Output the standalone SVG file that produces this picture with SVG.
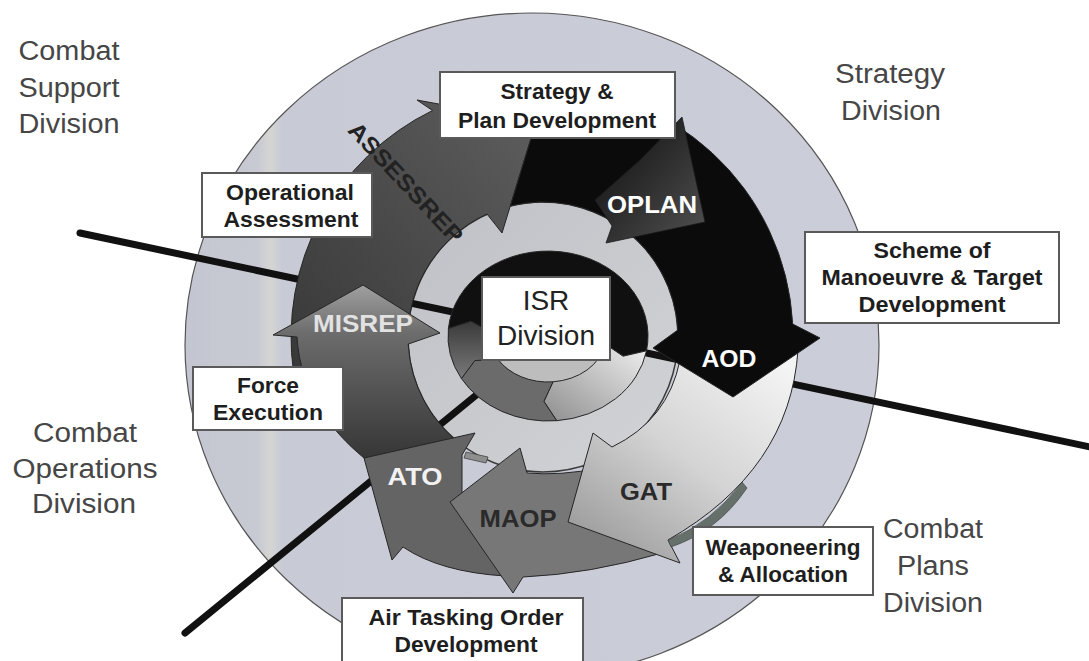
<svg xmlns="http://www.w3.org/2000/svg" width="1089" height="661" viewBox="0 0 1089 661">
<defs>
  <linearGradient id="gDisc" x1="0" y1="0" x2="1" y2="0">
    <stop offset="0" stop-color="#c3c6d0"/>
    <stop offset="0.105" stop-color="#c8cad3"/>
    <stop offset="0.123" stop-color="#d5d5d2"/>
    <stop offset="0.14" stop-color="#c8cbd5"/>
    <stop offset="1" stop-color="#cbced8"/>
  </linearGradient>
  <linearGradient id="gAss" x1="0" y1="1" x2="1" y2="0">
    <stop offset="0" stop-color="#383838"/>
    <stop offset="1" stop-color="#5e5e5e"/>
  </linearGradient>
  <linearGradient id="gMis" x1="0" y1="0" x2="0" y2="1">
    <stop offset="0" stop-color="#a0a0a0"/>
    <stop offset="0.28" stop-color="#6c6c6c"/>
    <stop offset="1" stop-color="#363636"/>
  </linearGradient>
  <linearGradient id="gGat" x1="0.85" y1="0" x2="0.1" y2="0.95">
    <stop offset="0" stop-color="#f4f4f4"/>
    <stop offset="0.5" stop-color="#d4d4d4"/>
    <stop offset="1" stop-color="#9a9a9a"/>
  </linearGradient>
  <linearGradient id="gOplan" x1="0.1" y1="0.1" x2="0.9" y2="0.9">
    <stop offset="0" stop-color="#121212"/>
    <stop offset="1" stop-color="#4a4a4a"/>
  </linearGradient>
  <linearGradient id="gInLight" x1="0" y1="1" x2="1" y2="0">
    <stop offset="0" stop-color="#8e8e8e"/>
    <stop offset="1" stop-color="#f0f0f0"/>
  </linearGradient>
  <linearGradient id="gInDark" x1="0" y1="0" x2="0" y2="1">
    <stop offset="0" stop-color="#3a3a3a"/>
    <stop offset="1" stop-color="#7a7a7a"/>
  </linearGradient>
  <linearGradient id="gMid" x1="0" y1="0" x2="1" y2="1">
    <stop offset="0" stop-color="#bfc1c6"/>
    <stop offset="1" stop-color="#d2d3d6"/>
  </linearGradient>
</defs>
<style>
  .box{fill:#ffffff;stroke:#5a5a5a;stroke-width:2}
  .bl{font-family:"Liberation Sans",Arial,sans-serif;font-weight:bold;font-size:22px;fill:#1e1e1e;text-anchor:middle}
  .dv{font-family:"Liberation Sans",Arial,sans-serif;font-size:27px;fill:#464646;text-anchor:middle}
  .sp{font-family:"Liberation Sans",Arial,sans-serif;font-weight:bold;font-size:23px;text-anchor:middle}
  .isr{font-family:"Liberation Sans",Arial,sans-serif;font-size:28px;fill:#222222;text-anchor:middle}
  .arr{stroke:#262626;stroke-width:1}
  .ln{stroke:#111111;stroke-width:7;stroke-linecap:round;fill:none}
</style>

<rect x="0" y="0" width="1089" height="661" fill="#ffffff"/>

<g id="background">
  <ellipse cx="532" cy="345" rx="347" ry="332" fill="url(#gDisc)" stroke="#555" stroke-width="1.2"/>
  <circle cx="543" cy="337" r="135" fill="url(#gMid)" stroke="#3a3a3a" stroke-width="1.5"/>
</g>

<g id="connectors">
  <line class="ln" x1="80" y1="233" x2="1095" y2="448"/>
  <line class="ln" x1="185" y1="633" x2="540" y2="343"/>
</g>

<g id="outer-arrows">
  <path id="assessrep" class="arr" fill="url(#gAss)" d="M293.5,372.1 A252,252 0 0 1 432.5,110.5 L417,100 L536,122 L502,233 L487,214 A135,135 0 0 0 409.3,355.8 Z"/>
  <path id="misrep" class="arr" fill="url(#gMis)" d="M363,285 L440,333 L408.2,344.1 A135,135 0 0 0 465.6,447.6 L364,458 C330,430 300,390 297,337 L273,335 Z"/>
  <path id="ato" class="arr" fill="#646464" d="M364,458 L475,433 L462,455 L462,500 L505,576 Q440,572 403,547 L392,560 Z"/>
  <path fill="#8e8e8e" stroke="#444" stroke-width="0.8" d="M466,452 L488,457 L486,463 L464,458 Z"/>
  <path id="maop" class="arr" fill="#777777" d="M450,502 L520,448 L527,473 Q560,476 600,468 L662,553 Q590,574 523,577 L513,593 Z"/>
  <path id="gat" class="arr" fill="url(#gGat)" d="M680,360 L798,350 Q790,470 668,540 L680,563 L568,522 L593,433 L612,447 Q668,420 680,360 Z"/>
  <path fill="#66706b" stroke="#3a3a3a" stroke-width="0.6" d="M742,482 Q712,523 668,540 L671,547 Q718,531 747,488 Z"/>
  <path id="strategy-arrow" class="arr" fill="#0b0b0b" d="M534.3,87.2 A250,250 0 0 1 792.7,324 L820,338 L733,397 L653,348 L677.8,330 A135,135 0 0 0 510.3,206 L536,122 Z"/>
  <path id="oplan" fill="url(#gOplan)" stroke="#1a1a1a" stroke-width="0.8" d="M682,117 L705,222 L606,243 L612,226 L595,200 L640,160 Z"/>
</g>

<g id="inner-ring">
  <ellipse cx="548" cy="336" rx="58" ry="46" fill="#bdbdbd"/>
  <path class="arr" fill="#101010" d="M448.4,328.6 A100,85 0 1 1 646.5,350.8 L623.1,356.2 L605.1,344.0 A58,46 0 1 0 490.2,332.0 L471.1,321.3 Z"/>
  <path class="arr" fill="url(#gInLight)" d="M646.5,350.8 A100,85 0 0 1 556.7,420.7 L543.9,401.4 L553.0,381.8 A58,46 0 0 0 605.1,344.0 L623.1,356.2 Z"/>
  <path class="arr" fill="#6b6b6b" d="M556.7,420.7 A100,85 0 0 1 461.4,378.5 L474.8,360.6 L497.8,359.0 A58,46 0 0 0 553.0,381.8 L543.9,401.4 Z"/>
  <path class="arr" fill="url(#gInDark)" d="M461.4,378.5 A100,85 0 0 1 448.4,328.6 L471.1,321.3 L490.2,332.0 A58,46 0 0 0 497.8,359.0 L474.8,360.6 Z"/>
</g>

<g id="arrow-labels">
  <text class="sp" x="652" y="213" fill="#ffffff" font-size="21" textLength="90" lengthAdjust="spacingAndGlyphs">OPLAN</text>
  <text class="sp" x="729" y="367" fill="#ffffff" textLength="55" lengthAdjust="spacingAndGlyphs">AOD</text>
  <text class="sp" x="646" y="500" fill="#2a2a2a" textLength="52" lengthAdjust="spacingAndGlyphs">GAT</text>
  <text class="sp" x="518" y="527" fill="#2a2a2a" textLength="77" lengthAdjust="spacingAndGlyphs">MAOP</text>
  <text class="sp" x="415" y="485" fill="#f2f2f2" textLength="55" lengthAdjust="spacingAndGlyphs">ATO</text>
  <text class="sp" x="363" y="332" fill="#e2e2e2" textLength="100" lengthAdjust="spacingAndGlyphs">MISREP</text>
  <text class="sp" transform="translate(400,188) rotate(47)" x="0" y="0" fill="#222222" font-size="21" textLength="156" lengthAdjust="spacingAndGlyphs">ASSESSREP</text>
</g>

<g id="n-isr">
  <rect class="box" x="482" y="277" width="128" height="83"/>
  <text class="isr" x="546" y="310">ISR</text>
  <text class="isr" x="546" y="345">Division</text>
</g>

<g id="n-strategy-plan">
  <rect class="box" x="440" y="72" width="235" height="66"/>
  <text class="bl" x="557" y="99" textLength="113" lengthAdjust="spacingAndGlyphs">Strategy &amp;</text>
  <text class="bl" x="557" y="128" textLength="198" lengthAdjust="spacingAndGlyphs">Plan Development</text>
</g>

<g id="n-op-assessment">
  <rect class="box" x="202" y="173" width="170" height="64"/>
  <text class="bl" x="290" y="200" textLength="128" lengthAdjust="spacingAndGlyphs">Operational</text>
  <text class="bl" x="291" y="227" textLength="135" lengthAdjust="spacingAndGlyphs">Assessment</text>
</g>

<g id="n-scheme">
  <rect class="box" x="805" y="232" width="254" height="91"/>
  <text class="bl" x="932" y="258" textLength="117" lengthAdjust="spacingAndGlyphs">Scheme of</text>
  <text class="bl" x="932" y="285" textLength="221" lengthAdjust="spacingAndGlyphs">Manoeuvre &amp; Target</text>
  <text class="bl" x="932" y="312" textLength="147" lengthAdjust="spacingAndGlyphs">Development</text>
</g>

<g id="n-force-execution">
  <rect class="box" x="193" y="367" width="150" height="63"/>
  <text class="bl" x="268" y="393" textLength="62" lengthAdjust="spacingAndGlyphs">Force</text>
  <text class="bl" x="268" y="420" textLength="110" lengthAdjust="spacingAndGlyphs">Execution</text>
</g>

<g id="n-weaponeering">
  <rect class="box" x="693" y="527" width="180" height="68"/>
  <text class="bl" x="783" y="555" textLength="155" lengthAdjust="spacingAndGlyphs">Weaponeering</text>
  <text class="bl" x="783" y="582" textLength="130" lengthAdjust="spacingAndGlyphs">&amp; Allocation</text>
</g>

<g id="n-ato-development">
  <rect class="box" x="342" y="598" width="241" height="72"/>
  <text class="bl" x="466" y="625" textLength="195" lengthAdjust="spacingAndGlyphs">Air Tasking Order</text>
  <text class="bl" x="466" y="652" textLength="143" lengthAdjust="spacingAndGlyphs">Development</text>
</g>

<g id="n-combat-support">
  <text class="dv" x="69" y="60" textLength="101" lengthAdjust="spacingAndGlyphs">Combat</text>
  <text class="dv" x="69" y="97" textLength="101" lengthAdjust="spacingAndGlyphs">Support</text>
  <text class="dv" x="69" y="133" textLength="101" lengthAdjust="spacingAndGlyphs">Division</text>
</g>

<g id="n-strategy-division">
  <text class="dv" x="890" y="83" textLength="110" lengthAdjust="spacingAndGlyphs">Strategy</text>
  <text class="dv" x="891" y="120" textLength="100" lengthAdjust="spacingAndGlyphs">Division</text>
</g>

<g id="n-combat-operations">
  <text class="dv" x="85" y="442" textLength="104" lengthAdjust="spacingAndGlyphs">Combat</text>
  <text class="dv" x="85" y="478" textLength="145" lengthAdjust="spacingAndGlyphs">Operations</text>
  <text class="dv" x="84" y="513" textLength="104" lengthAdjust="spacingAndGlyphs">Division</text>
</g>

<g id="n-combat-plans">
  <text class="dv" x="933" y="538" textLength="100" lengthAdjust="spacingAndGlyphs">Combat</text>
  <text class="dv" x="933" y="575" textLength="72" lengthAdjust="spacingAndGlyphs">Plans</text>
  <text class="dv" x="933" y="612" textLength="100" lengthAdjust="spacingAndGlyphs">Division</text>
</g>
</svg>
